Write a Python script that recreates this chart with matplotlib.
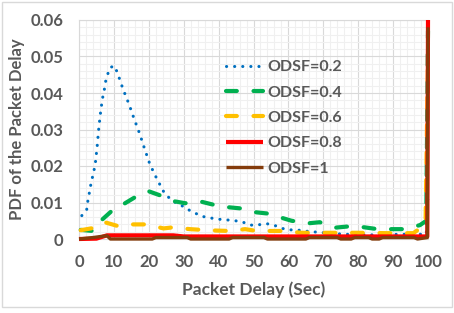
import matplotlib.pyplot as plt
from matplotlib.patches import Rectangle
from matplotlib.ticker import MultipleLocator

plt.rcParams['font.family'] = ['Lato', 'DejaVu Sans']
plt.rcParams['font.weight'] = 'bold'
plt.rcParams['axes.labelweight'] = 'bold'

# values
x02 = [0.8, 2.2, 2.5, 2.9, 3.3, 3.8, 4.3, 4.7, 5.2, 5.6, 6.1, 6.7, 7.2, 7.5, 8.1, 8.9,
       10.2, 11.1, 12.6, 14.3, 15.8, 17.4, 18.8, 20.3, 22.3, 24.4, 26.0, 27.8, 29.7,
       31.6, 33.7, 35.8, 38.1, 40.3, 42.7, 44.8, 47.0, 49.2, 51.5, 53.8, 56.1, 58.2,
       60.3, 62.4, 64.5, 69, 76, 85, 92, 99.5, 100]
y02 = [0.0064, 0.0080, 0.0102, 0.0123, 0.0145, 0.0167, 0.0188, 0.0209, 0.0253, 0.0297,
       0.0341, 0.0384, 0.0405, 0.0427, 0.0448, 0.0470, 0.0474, 0.0453, 0.0411, 0.0370,
       0.0329, 0.0288, 0.0247, 0.0205, 0.0165, 0.0127, 0.0111, 0.0099, 0.0090, 0.0079,
       0.0069, 0.0061, 0.0057, 0.0054, 0.0052, 0.0050, 0.0046, 0.0038, 0.0039, 0.0042,
       0.0037, 0.0029, 0.0025, 0.0025, 0.0022, 0.0018, 0.0013, 0.0011, 0.0013, 0.0013,
       0.0127]

x04 = [0.5, 4, 6.5, 9.4, 13.2, 16.5, 19.9, 23.7, 27.5, 30.4, 34.7, 38.5, 42.8, 46.1,
       49.9, 53.8, 58.1, 60.9, 65.7, 69, 73.4, 76.7, 81, 84.8, 89.1, 92.9, 97.7, 99.5, 100]
y04 = [0.0025, 0.0022, 0.0052, 0.0077, 0.0098, 0.0117, 0.0131, 0.0118, 0.0103, 0.0098,
       0.0103, 0.0094, 0.0087, 0.0084, 0.0074, 0.0070, 0.0058, 0.0050, 0.0043, 0.0046,
       0.0031, 0.0034, 0.0033, 0.0028, 0.0027, 0.0027, 0.0038, 0.0050, 0.0570]

x06 = [0.5, 4, 7, 11.3, 14, 19.4, 24.2, 27, 31.8, 35.2, 39.5, 43.3, 47.6, 50.9, 55.2,
       58.5, 63.8, 71.9, 80, 88.2, 95.8, 99.3, 100]
y06 = [0.0024, 0.0030, 0.0047, 0.0035, 0.0040, 0.0040, 0.0029, 0.0032, 0.0027, 0.0025,
       0.0023, 0.0022, 0.0027, 0.0022, 0.0022, 0.0022, 0.0017, 0.0017, 0.0017, 0.0016,
       0.0016, 0.0040, 0.0500]

x08 = [0, 5, 8, 27, 30, 99.8, 100]
y08 = [0.0, 0.0001, 0.0010, 0.0010, 0.0007, 0.0007, 0.0600]

x10 = [0, 4, 8, 9, 21, 22, 31, 32, 43, 44, 53, 54, 65, 66, 74, 75, 78, 79, 83, 84,
       86, 87, 96, 97, 99.8, 100]
y10 = [0.0, 0.0004, 0.0009, 0.0, 0.0, 0.0004, 0.0004, 0.0, 0.0, 0.0004, 0.0004, 0.0,
       0.0, 0.0004, 0.0004, 0.0, 0.0, 0.0004, 0.0004, 0.0, 0.0, 0.0004, 0.0004, 0.0,
       0.0004, 0.0580]

xticks = [0, 10, 20, 30, 40, 50, 60, 70, 80, 90, 100]
yticks = [0, 0.01, 0.02, 0.03, 0.04, 0.05, 0.06]
ylabels = ['0', '0.01', '0.02', '0.03', '0.04', '0.05', '0.06']

txt = '#595959'

fig = plt.figure(figsize=(4.54, 3.13), dpi=100)
ax = fig.add_axes([79 / 454, 1 - 239 / 313, 349 / 454, 219 / 313])

ax.plot(x02, y02, color='#0070C0', lw=2.2, linestyle=(0, (0.05, 2.6)),
        dash_capstyle='round', clip_on=False, label='ODSF=0.2', zorder=3)
ax.plot(x04, y04, color='#00B050', lw=3, linestyle=(0, (2.6, 4.0)),
        dash_capstyle='round', clip_on=False, label='ODSF=0.4', zorder=3)
ax.plot(x06, y06, color='#FFC000', lw=3, linestyle=(0, (2.6, 4.0)),
        dash_capstyle='round', clip_on=False, label='ODSF=0.6', zorder=3)
ax.plot(x08, y08, color='#FF0000', lw=3, solid_capstyle='butt',
        clip_on=False, label='ODSF=0.8', zorder=4)
ax.plot(x10, y10, color='#843C0C', lw=2.4, solid_capstyle='butt',
        clip_on=False, label='ODSF=1', zorder=5)

ax.set_xlim(0, 100)
ax.set_ylim(0, 0.06)
ax.set_xticks(xticks)
ax.set_yticks(yticks)
ax.set_yticklabels(ylabels)
ax.xaxis.set_minor_locator(MultipleLocator(2))
ax.yaxis.set_minor_locator(MultipleLocator(0.002))
ax.grid(which='major', color='#d9d9d9', lw=0.8)
ax.grid(which='minor', color='#f0f0f0', lw=0.8)
ax.set_axisbelow(True)
for s in ax.spines.values():
    s.set_color('#d9d9d9')
    s.set_linewidth(0.8)
ax.tick_params(which='both', length=0, labelsize=12, labelcolor=txt, pad=11)

ax.set_xlabel('Packet Delay (Sec)', fontsize=12.5, color=txt, labelpad=8)
ax.set_ylabel('PDF of the Packet Delay', fontsize=12, color=txt, labelpad=4)

ax.legend(loc='upper left', bbox_to_anchor=(226 / 454, 1 - 60 / 313),
          bbox_transform=fig.transFigure, frameon=False, borderpad=0,
          borderaxespad=0, handlelength=2.3, handletextpad=0.3,
          labelspacing=0.7, prop=dict(weight='bold', size=11.5), labelcolor=txt)

fig.patches.append(Rectangle((1.5 / 454, 1 - 306.5 / 313), 450 / 454, 305 / 313,
                             transform=fig.transFigure, fill=False,
                             edgecolor='#d9d9d9', lw=1))

fig.savefig('out.png', dpi=100)
